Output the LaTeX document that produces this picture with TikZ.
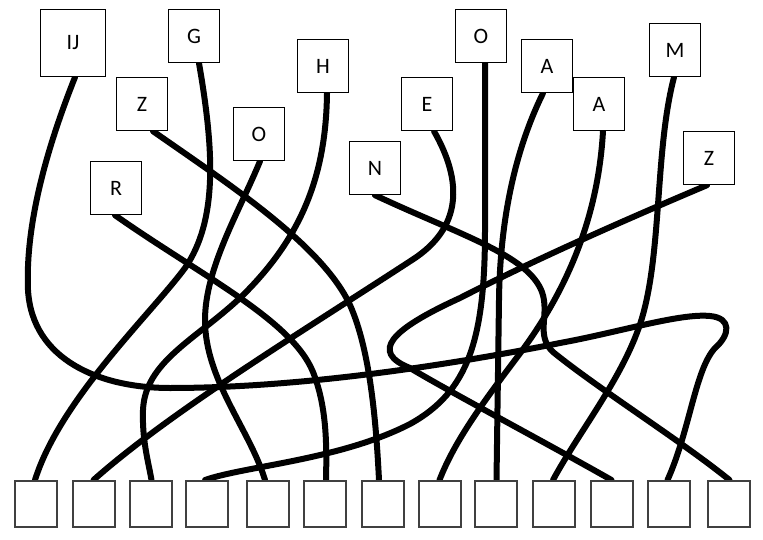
\documentclass[tikz,border=0pt]{standalone}
\usepackage{fontspec}
\setmainfont{Carlito}
\usetikzlibrary{backgrounds}
\begin{document}
\begin{tikzpicture}[x=1pt,y=-1pt,
  lbl/.style={draw=black,line width=1.4pt,fill=white,minimum width=51pt,minimum height=53pt,inner sep=0pt,font=\fontsize{22}{26}\selectfont},
  slot/.style={draw=black!75,line width=2pt,fill=white,minimum width=42pt,minimum height=46pt,inner sep=0pt},
  wire/.style={line width=6pt,line cap=round,line join=round}]
\useasboundingbox (0,0) rectangle (763,540);
% top labels
\node[lbl,minimum width=65pt,minimum height=67pt] (ij) at (73,43) {IJ};
\node[lbl] (g)  at (194,36)  {G};
\node[lbl] (z1) at (142,104) {Z};
\node[lbl] (h)  at (323,66)  {H};
\node[lbl] (o1) at (259,134) {O};
\node[lbl] (r)  at (116,188) {R};
\node[lbl] (n)  at (375,168) {N};
\node[lbl] (e)  at (427,104) {E};
\node[lbl] (o2) at (481,36)  {O};
\node[lbl] (a1) at (547,66)  {A};
\node[lbl] (a2) at (599,104) {A};
\node[lbl] (m)  at (675,50)  {M};
\node[lbl] (z2) at (709,158) {Z};
% bottom slots
\foreach \i/\x in {1/36,2/93.5,3/150.5,4/207,5/268,6/325,7/383,8/439.5,9/495.5,10/554,11/611.5,12/668.5,13/728.5}
  \node[slot] (b\i) at (\x,504) {};
\begin{pgfonlayer}{background}
% IJ -> 12
\draw[wire] ([xshift=2pt]ij.south) .. controls (50,140) and (25,220) .. (28,290)
  .. controls (32,360) and (100,388) .. (170,388)
  .. controls (300,388) and (450,365) .. (560,343)
  .. controls (620,332) and (680,313) .. (710,316)
  .. controls (732,318) and (730,335) .. (715,348)
  .. controls (695,370) and (690,430) .. ([xshift=-1pt]b12.north);
% G -> 1
\draw[wire] ([xshift=5pt]g.south) .. controls (214,150) and (218,220) .. (185,268)
  .. controls (150,315) and (60,400) .. ([xshift=-1pt]b1.north);
% Z -> 7
\draw[wire] ([xshift=11pt]z1.south) .. controls (230,185) and (322,245) .. (350,305)
  .. controls (370,350) and (376,420) .. ([xshift=-4pt]b7.north);
% H -> 3
\draw[wire] ([xshift=4pt]h.south) .. controls (326,175) and (302,238) .. (240,298)
  .. controls (195,340) and (145,362) .. (143,410)
  .. controls (142,440) and (148,460) .. ([xshift=1pt]b3.north);
% O -> 5
\draw[wire] ([xshift=1pt]o1.south) .. controls (240,210) and (205,268) .. (205,320)
  .. controls (205,380) and (250,430) .. ([xshift=-3pt]b5.north);
% R -> 6
\draw[wire] ([xshift=-1pt]r.south) .. controls (200,275) and (292,320) .. (313,372)
  .. controls (326,405) and (327,440) .. ([xshift=1pt]b6.north);
% E -> 2
\draw[wire] ([xshift=7pt]e.south) .. controls (463,182) and (462,228) .. (412,260)
  .. controls (300,333) and (170,412) .. (b2.north);
% O -> 4
\draw[wire] ([xshift=4pt]o2.south) -- (485,230)
  .. controls (485,340) and (468,392) .. (410,424)
  .. controls (340,460) and (245,466) .. ([xshift=-2pt]b4.north);
% A -> 9
\draw[wire] ([xshift=-4pt]a1.south) .. controls (515,150) and (500,220) .. (499,300)
  -- ([xshift=1pt]b9.north);
% A -> 8
\draw[wire] ([xshift=4pt]a2.south) .. controls (598,220) and (565,295) .. (515,360)
  .. controls (485,400) and (455,440) .. (b8.north);
% M -> 10
\draw[wire] ([xshift=-1pt]m.south) .. controls (655,150) and (662,250) .. (642,318)
  .. controls (625,375) and (580,430) .. ([xshift=-1pt]b10.north);
% Z -> 11
\draw[wire] ([xshift=-2pt]z2.south) .. controls (620,222) and (530,262) .. (460,298)
  .. controls (390,330) and (370,352) .. (410,368)
  .. controls (450,392) and (550,445) .. (b11.north);
% N -> 13
\draw[wire] (n.south) .. controls (460,235) and (528,255) .. (542,292)
  .. controls (550,315) and (535,335) .. (553,352)
  .. controls (600,390) and (680,440) .. ([xshift=1pt]b13.north);
\end{pgfonlayer}
\end{tikzpicture}
\end{document}
